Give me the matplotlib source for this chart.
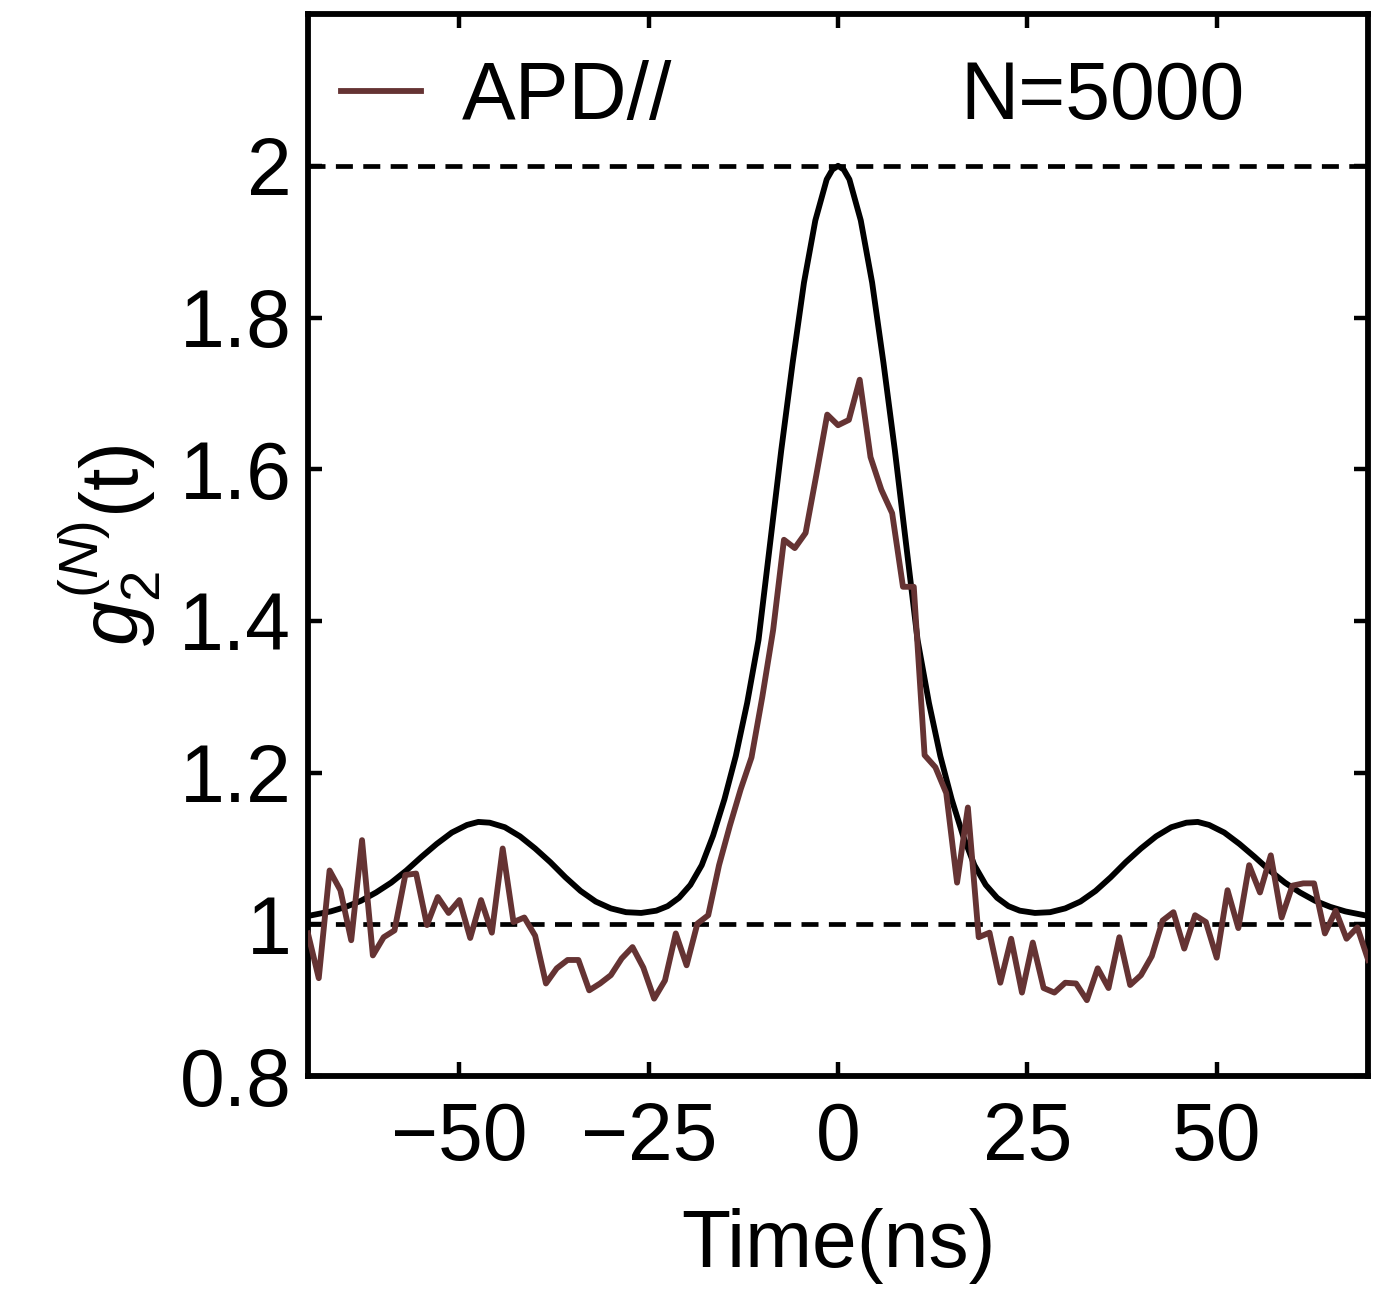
import numpy as np
import matplotlib
matplotlib.use("Agg")
import matplotlib.pyplot as plt

plt.rcParams['font.family'] = ['Liberation Sans', 'DejaVu Sans']
plt.rcParams['mathtext.fontset'] = 'custom'
plt.rcParams['mathtext.rm'] = 'Liberation Sans'
plt.rcParams['mathtext.it'] = 'Liberation Sans:italic'

# Measured second-order correlation (APD, parallel polarisation), 99 time bins
g2_apd = [
    0.988, 0.929, 1.071, 1.045, 0.979, 1.111, 0.959, 0.983, 0.992, 1.065,
    1.067, 0.999, 1.036, 1.015, 1.032, 0.982, 1.032, 0.989, 1.100, 1.003,
    1.009, 0.985, 0.922, 0.942, 0.953, 0.953, 0.913, 0.922, 0.933, 0.955,
    0.970, 0.943, 0.902, 0.926, 0.988, 0.946, 1.001, 1.012, 1.078, 1.130,
    1.178, 1.220, 1.300, 1.388, 1.507, 1.496, 1.516, 1.593, 1.672, 1.658,
    1.665, 1.718, 1.616, 1.573, 1.542, 1.445, 1.445, 1.223, 1.207, 1.173,
    1.055, 1.154, 0.983, 0.989, 0.923, 0.981, 0.910, 0.976, 0.916, 0.910,
    0.923, 0.922, 0.900, 0.942, 0.916, 0.983, 0.920, 0.933, 0.958, 1.005,
    1.016, 0.968, 1.012, 1.003, 0.956, 1.045, 0.995, 1.078, 1.042, 1.091,
    1.009, 1.051, 1.054, 1.054, 0.988, 1.018, 0.981, 0.996, 0.953,
]
t_first, t_last = -70.0, 70.0
t_apd = np.linspace(t_first, t_last, len(g2_apd))

# Theoretical curve
t_theory = [
    -70, -67, -65, -63, -61, -59, -57, -55, -53, -51, -49, -47.5, -46, -44,
    -42, -40, -38, -36, -34, -32, -30, -28, -26, -24, -22.5, -21, -19.5,
    -18, -16.5, -15, -13.5, -12, -10.5, -9, -7.5, -6, -4.5, -3, -1.5, -0.75,
    0,
    0.75, 1.5, 3, 4.5, 6, 7.5, 9, 10.5, 12, 13.5, 15, 16.5, 18, 19.5, 21,
    22.5, 24, 26, 28, 30, 32, 34, 36, 38, 40, 42, 44, 46, 47.5, 49, 51, 53,
    55, 57, 59, 61, 63, 65, 67, 70,
]
g2_theory = [
    1.011, 1.017, 1.023, 1.031, 1.042, 1.055, 1.071, 1.089, 1.106, 1.121,
    1.131, 1.135, 1.134, 1.128, 1.116, 1.100, 1.082, 1.062, 1.044, 1.030,
    1.021, 1.016, 1.015, 1.018, 1.024, 1.035, 1.052, 1.078, 1.117, 1.165,
    1.222, 1.292, 1.375, 1.500, 1.625, 1.740, 1.846, 1.928, 1.982, 1.995,
    2.000,
    1.995, 1.982, 1.928, 1.846, 1.740, 1.625, 1.500, 1.375, 1.292, 1.222,
    1.165, 1.117, 1.078, 1.052, 1.035, 1.024, 1.018, 1.015, 1.016, 1.021,
    1.030, 1.044, 1.062, 1.082, 1.100, 1.116, 1.128, 1.134, 1.135, 1.131,
    1.121, 1.106, 1.089, 1.071, 1.055, 1.042, 1.031, 1.023, 1.017, 1.011,
]

# Reference levels
ref_levels = [1.0, 2.0]

x_ticks = [-50, -25, 0, 25, 50]
x_tick_labels = ["\u221250", "\u221225", "0", "25", "50"]
y_ticks = [0.8, 1.0, 1.2, 1.4, 1.6, 1.8, 2.0]
y_tick_labels = ["0.8", "1", "1.2", "1.4", "1.6", "1.8", "2"]

FS = 58
brown = "#653333"

fig = plt.figure(figsize=(13.89, 12.93), dpi=100)
ax = fig.add_axes([0.2217, 0.1678, 0.7633, 0.8213])

for lvl in ref_levels:
    ax.axhline(lvl, color="black", lw=3.4, dashes=(3.6, 2.2), zorder=1)

ax.plot(t_theory, g2_theory, color="black", lw=4.2, zorder=2,
        solid_joinstyle="round")
ax.plot(t_apd, g2_apd, color=brown, lw=4.2, zorder=3, label="APD//")

ax.set_xlim(-70, 70)
ax.set_ylim(0.8, 2.2)
ax.set_xticks(x_ticks)
ax.set_xticklabels(x_tick_labels)
ax.set_yticks(y_ticks)
ax.set_yticklabels(y_tick_labels)

ax.tick_params(axis="both", which="major", direction="in", length=10, width=3.2,
               top=True, right=True, labelsize=FS)
ax.tick_params(axis="x", pad=18)
ax.tick_params(axis="y", pad=12)
for sp in ax.spines.values():
    sp.set_linewidth(4.2)

ax.set_xlabel("Time(ns)", fontsize=FS, labelpad=22)
ax.set_ylabel(r"$g_2^{(N)}\mathrm{(t)}$", fontsize=FS, labelpad=12)

ax.legend(loc="center left", bbox_to_anchor=(0.031, 0.921), frameon=False,
          fontsize=FS, handlelength=1.0, handletextpad=0.5, borderpad=0,
          borderaxespad=0)
ax.text(0.615, 0.921, "N=5000", transform=ax.transAxes, fontsize=FS,
        ha="left", va="center")

fig.savefig("out.png", dpi=100, facecolor="white")
